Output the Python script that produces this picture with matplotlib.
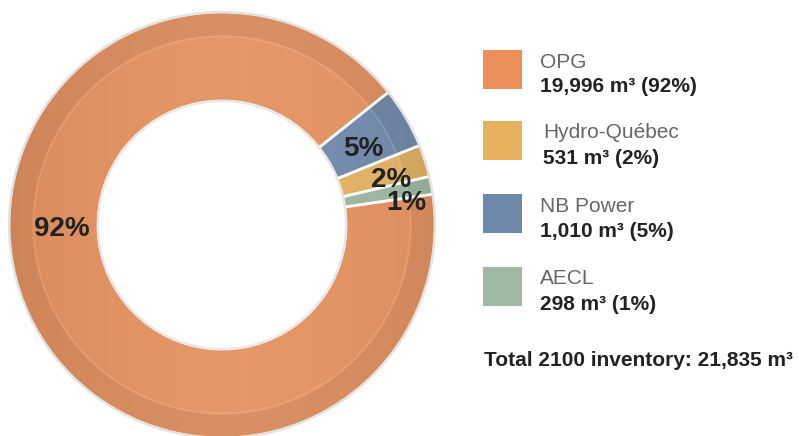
import numpy as np
import matplotlib.pyplot as plt
from matplotlib.patches import Wedge, Circle

# data
names = ['OPG', 'Hydro-Québec', 'NB Power', 'AECL']
volumes = [19996, 531, 1010, 298]
pct_labels = ['92%', '2%', '5%', '1%']
colors = ['#E38C57', '#E2AE5B', '#6A83A7', '#99B59F']
legend_colors = ['#EC8F59', '#E5B15E', '#6D87AB', '#A0B9A5']
total_text = 'Total 2100 inventory: 21,835 m\u00b3'

plt.rcParams['font.family'] = ['Liberation Sans', 'DejaVu Sans']

fig = plt.figure(figsize=(7.99, 4.36), dpi=100)
W, H = 799, 436
cx, cy, R = 222, 225, 213
ax = fig.add_axes([(cx - R) / W, (H - cy - R) / H, 2 * R / W, 2 * R / H])

inner = 124 / R
# draw in counter-clockwise order starting from AECL
order = [3, 1, 2, 0]
sizes = [volumes[i] for i in order]
wedges, _ = ax.pie(sizes, colors=[colors[i] for i in order], startangle=8.3,
                   counterclock=True, radius=1.0,
                   wedgeprops=dict(width=1 - inner, edgecolor='white', linewidth=2))
ax.set_xlim(-1, 1)
ax.set_ylim(-1, 1)
ax.set_aspect('auto')
ax.axis('off')

# bevel look: darker outer band + light line
for w in wedges:
    t1, t2 = w.theta1, w.theta2
    ax.add_patch(Wedge((0, 0), 1.0, t1 + 0.4, t2 - 0.4, width=0.11,
                       facecolor='black', alpha=0.05, lw=0))
    ax.add_patch(Wedge((0, 0), 0.89, t1 + 0.4, t2 - 0.4, width=0.01,
                       facecolor='white', alpha=0.12, lw=0))

# horizontal shading
grad = np.linspace(0, 1, 256)
shade = np.abs(grad - 0.55)[None, :]
img = ax.imshow(shade, extent=[-1, 1, -1, 1], cmap='Greys', alpha=0.10,
                vmin=0, vmax=1, aspect='auto', zorder=3)
ring = Wedge((0, 0), 1.0, 0, 360, width=1 - inner, transform=ax.transData)
img.set_clip_path(ring)
ax.set_xlim(-1, 1)
ax.set_ylim(-1, 1)

ax.add_patch(Circle((0, 0), 1.0, fill=False, edgecolor='#E2E2E2', lw=1.5, zorder=4, clip_on=False))
ax.add_patch(Circle((0, 0), inner, fill=False, edgecolor='#E6E6E6', lw=1.5, zorder=4))

# percentage labels (radius, angle offset from slice middle)
label_pos = {0: (0.75, -22.0), 1: (0.82, -2.5), 2: (0.755, -2.0), 3: (0.87, -4.0)}
for w, i in zip(wedges, order):
    r, off = label_pos[i]
    ang = np.deg2rad((w.theta1 + w.theta2) / 2 + off)
    ax.text(r * np.cos(ang), r * np.sin(ang), pct_labels[i], ha='center', va='center',
            fontsize=20, fontweight='bold', color='#222222', zorder=5)

# legend
total = sum(volumes)
box_top = [50, 121, 194, 267]
for i, name in enumerate(names):
    y0 = box_top[i]
    fig.patches.append(plt.Rectangle((483 / W, (H - y0 - 39) / H), 39 / W, 39 / H,
                                     transform=fig.transFigure, facecolor=legend_colors[i],
                                     edgecolor='none'))
    tx = 540 if i != 1 else 543
    fig.text(tx / W, (H - y0 - 12) / H, name, fontsize=15, color='#666666',
             ha='left', va='center')
    val = f'{volumes[i]:,} m\u00b3 ({round(volumes[i] / total * 100)}%)'
    fig.text(tx / W, (H - y0 - 37) / H, val, fontsize=15, fontweight='bold',
             color='#222222', ha='left', va='center')

fig.text(484 / W, (H - 360) / H, total_text, fontsize=15, fontweight='bold',
         color='#222222', ha='left', va='center')

fig.savefig('out.png', dpi=100)
